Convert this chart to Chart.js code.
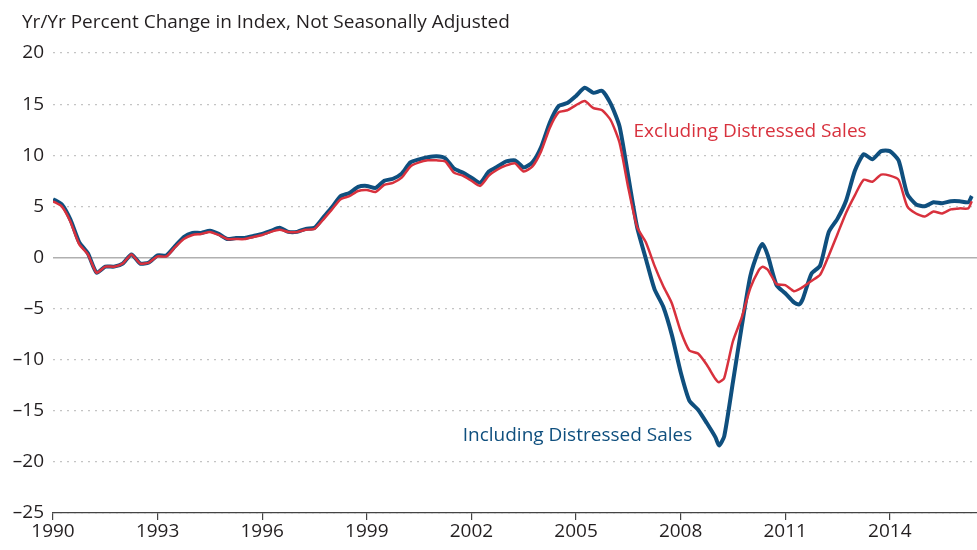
<!DOCTYPE html>
<html>
<head>
<meta charset="utf-8">
<script src="https://cdn.jsdelivr.net/npm/chart.js@4.4.1/dist/chart.umd.min.js"></script>
<style>
  html, body { margin: 0; padding: 0; background: #fff; }
  #wrap { width: 977px; height: 550px; position: relative; }
</style>
</head>
<body>
<div id="wrap"><canvas id="chart"></canvas></div>
<script>
// --- DATA ---
const dates = [
  1990.00, 1990.25, 1990.50, 1990.75, 1991.00, 1991.25, 1991.50, 1991.75,
  1992.00, 1992.25, 1992.50, 1992.75, 1993.00, 1993.25, 1993.50, 1993.75,
  1994.00, 1994.25, 1994.50, 1994.75, 1995.00, 1995.25, 1995.50, 1995.75,
  1996.00, 1996.25, 1996.50, 1996.75, 1997.00, 1997.25, 1997.50, 1997.75,
  1998.00, 1998.25, 1998.50, 1998.75, 1999.00, 1999.25, 1999.50, 1999.75,
  2000.00, 2000.25, 2000.50, 2000.75, 2001.00, 2001.25, 2001.50, 2001.75,
  2002.00, 2002.25, 2002.50, 2002.75, 2003.00, 2003.25, 2003.50, 2003.75,
  2004.00, 2004.25, 2004.50, 2004.75, 2005.00, 2005.25, 2005.50, 2005.75,
  2006.00, 2006.25, 2006.50, 2006.75, 2007.00, 2007.25, 2007.50, 2007.75,
  2008.00, 2008.25, 2008.50, 2008.75, 2009.00, 2009.10, 2009.25, 2009.50,
  2009.75, 2010.00, 2010.25, 2010.35, 2010.50, 2010.75, 2011.00, 2011.25,
  2011.40, 2011.50, 2011.75, 2012.00, 2012.25, 2012.50, 2012.75, 2013.00,
  2013.25, 2013.50, 2013.75, 2014.00, 2014.25, 2014.50, 2014.75, 2015.00,
  2015.25, 2015.50, 2015.75, 2016.00, 2016.25, 2016.35
];

const including = [
  5.7, 5.2, 3.7, 1.5, 0.4, -1.5, -0.9, -0.9,
  -0.6, 0.3, -0.6, -0.5, 0.2, 0.2, 1.1, 2.0,
  2.4, 2.4, 2.6, 2.3, 1.8, 1.9, 1.9, 2.1,
  2.3, 2.6, 2.9, 2.5, 2.5, 2.8, 2.9, 3.9,
  4.9, 6.0, 6.3, 6.9, 7.0, 6.8, 7.5, 7.7,
  8.2, 9.3, 9.6, 9.8, 9.9, 9.7, 8.7, 8.3,
  7.8, 7.3, 8.4, 8.9, 9.4, 9.5, 8.8, 9.3,
  10.8, 13.2, 14.8, 15.1, 15.8, 16.6, 16.1, 16.3,
  15.0, 12.8, 7.9, 3.0, -0.1, -3.1, -4.8, -7.6,
  -11.2, -14.0, -14.9, -16.2, -17.6, -18.4, -17.5, -12.2,
  -6.8, -1.8, 0.8, 1.3, 0.2, -2.7, -3.5, -4.4,
  -4.6, -4.1, -1.6, -0.8, 2.5, 3.8, 5.6, 8.5,
  10.1, 9.6, 10.4, 10.4, 9.5, 6.2, 5.2, 5.0,
  5.4, 5.3, 5.5, 5.5, 5.4, 6.0
];

const excluding = [
  5.5, 5.0, 3.5, 1.3, 0.3, -1.5, -0.9, -0.9,
  -0.6, 0.3, -0.6, -0.5, 0.1, 0.1, 1.0, 1.8,
  2.2, 2.3, 2.5, 2.2, 1.8, 1.8, 1.8, 2.0,
  2.2, 2.5, 2.7, 2.5, 2.5, 2.7, 2.8, 3.7,
  4.7, 5.7, 6.0, 6.5, 6.6, 6.4, 7.1, 7.3,
  7.8, 8.9, 9.3, 9.5, 9.5, 9.4, 8.3, 8.0,
  7.5, 7.0, 8.0, 8.6, 9.0, 9.2, 8.4, 8.9,
  10.4, 12.7, 14.2, 14.4, 14.9, 15.3, 14.6, 14.4,
  13.4, 11.2, 6.8, 3.0, 1.5, -0.8, -2.8, -4.5,
  -7.2, -9.1, -9.4, -10.5, -11.9, -12.2, -11.8, -8.2,
  -5.9, -3.0, -1.2, -0.9, -1.2, -2.6, -2.7, -3.3,
  -3.1, -2.9, -2.3, -1.7, 0.2, 2.3, 4.4, 6.1,
  7.6, 7.4, 8.1, 8.0, 7.6, 5.0, 4.3, 4.0,
  4.5, 4.3, 4.7, 4.8, 4.8, 5.5
];

const xTicks = [1990, 1993, 1996, 1999, 2002, 2005, 2008, 2011, 2014];
const yTicks = [20, 15, 10, 5, 0, -5, -10, -15, -20, -25];

const titleText = 'Yr/Yr Percent Change in Index, Not Seasonally Adjusted';
const seriesNames = ['Including Distressed Sales', 'Excluding Distressed Sales'];

const BLUE = '#0f4f7e';
const RED = '#d8313d';
const FONT = '"Open Sans", Lato, sans-serif';

// --- title + series labels drawn on the canvas ---
const textPlugin = {
  id: 'texts',
  afterDraw(chart) {
    const { ctx, scales: { x, y } } = chart;
    ctx.save();
    ctx.textBaseline = 'alphabetic';
    ctx.textAlign = 'left';
    ctx.fillStyle = '#231f20';
    ctx.font = '19px ' + FONT;
    ctx.fillText(titleText, 22, 28);

    ctx.font = '19px ' + FONT;
    ctx.fillStyle = RED;
    ctx.fillText(seriesNames[1], x.getPixelForValue(2006.65), y.getPixelForValue(11.8));
    ctx.fillStyle = BLUE;
    ctx.fillText(seriesNames[0], x.getPixelForValue(2001.75), y.getPixelForValue(-18.0));
    ctx.restore();
  }
};

const ctx = document.getElementById('chart');
new Chart(ctx, {
  type: 'line',
  data: {
    datasets: [
      {
        label: seriesNames[0],
        data: dates.map((d, i) => ({ x: d, y: including[i] })),
        borderColor: BLUE,
        borderWidth: 4,
        pointRadius: 0,
        tension: 0.2,
        order: 2
      },
      {
        label: seriesNames[1],
        data: dates.map((d, i) => ({ x: d, y: excluding[i] })),
        borderColor: RED,
        borderWidth: 2.5,
        pointRadius: 0,
        tension: 0.2,
        order: 1
      }
    ]
  },
  options: {
    responsive: true,
    maintainAspectRatio: false,
    animation: false,
    layout: { padding: { top: 53, left: 0, right: 0, bottom: 0 } },
    plugins: {
      legend: { display: false },
      tooltip: { enabled: false }
    },
    scales: {
      x: {
        type: 'linear',
        min: 1990,
        max: 2016.5,
        afterBuildTicks: s => { s.ticks = xTicks.map(v => ({ value: v })); },
        afterFit: s => { s.height = 37; },
        ticks: {
          callback: v => String(v),
          color: '#231f20',
          font: { family: FONT, size: 19 },
          padding: 0,
          maxRotation: 0,
          autoSkip: false
        },
        grid: {
          drawOnChartArea: false,
          drawTicks: true,
          tickLength: 7,
          color: '#444',
          lineWidth: 1.2
        },
        border: { display: true, color: '#444', width: 1.3 }
      },
      y: {
        min: -25,
        max: 20,
        afterBuildTicks: s => { s.ticks = yTicks.map(v => ({ value: v })); },
        afterFit: s => { s.width = 53; },
        ticks: {
          callback: v => (v < 0 ? '\u2013' + Math.abs(v) : String(v)),
          color: '#231f20',
          font: { family: FONT, size: 19 },
          padding: 9
        },
        grid: {
          drawTicks: false,
          color: c => (c.tick && c.tick.value === 0 ? '#b0b0b0' : '#c4c4c4'),
          lineWidth: c => (c.tick && c.tick.value === 0 ? 1.5 : 1.2)
        },
        border: {
          display: false,
          dash: c => (c.tick && c.tick.value === 0 ? [] : [2, 5])
        }
      }
    }
  },
  plugins: [textPlugin]
});
</script>
</body>
</html>
